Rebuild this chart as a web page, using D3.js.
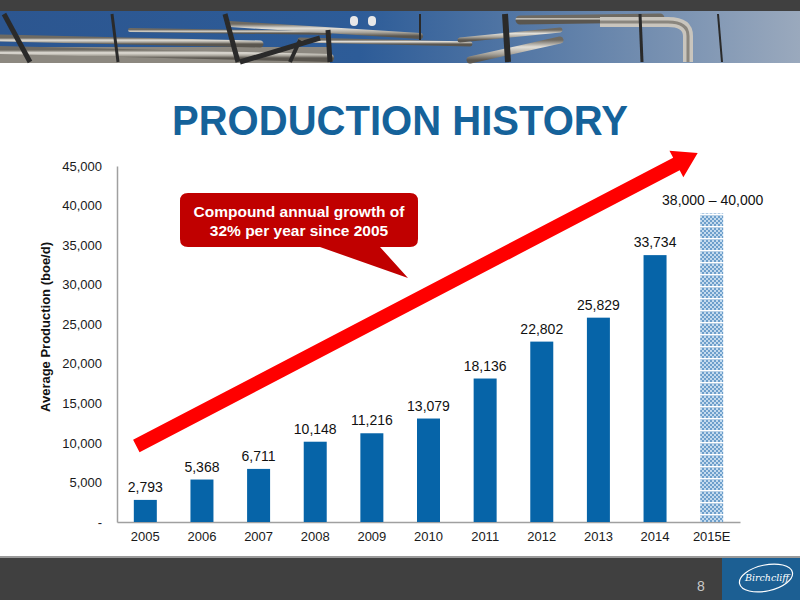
<!DOCTYPE html>
<html>
<head>
<meta charset="utf-8">
<script src="https://cdn.jsdelivr.net/npm/d3@7"></script>
<style>
  html, body { margin: 0; padding: 0; background: #fff; }
  svg { display: block; }
</style>
</head>
<body>
<div id="slide"></div>
<script>
// données du graphique
const years = ["2005", "2006", "2007", "2008", "2009", "2010", "2011", "2012", "2013", "2014", "2015E"];
const production = [2793, 5368, 6711, 10148, 11216, 13079, 18136, 22802, 25829, 33734, 39000];
const valueLabels = ["2,793", "5,368", "6,711", "10,148", "11,216", "13,079", "18,136", "22,802", "25,829", "33,734", "38,000 – 40,000"];
const estimated = [false, false, false, false, false, false, false, false, false, false, true];
const yTicks = [0, 5000, 10000, 15000, 20000, 25000, 30000, 35000, 40000, 45000];

const width = 800, height = 600;
const font = "'Liberation Sans', Arial, Helvetica, sans-serif";

const svg = d3.select("#slide").append("svg")
  .attr("width", width)
  .attr("height", height);

const defs = svg.append("defs");

// motif de la barre estimée
const pat = defs.append("pattern")
  .attr("id", "estPattern")
  .attr("patternUnits", "userSpaceOnUse")
  .attr("width", 4).attr("height", 12);
pat.append("rect").attr("width", 4).attr("height", 12).attr("fill", "#6d9fcb");
[[0, 0], [2, 2], [0, 4], [2, 6], [0, 8]].forEach(([x, y]) => {
  pat.append("rect").attr("x", x).attr("y", y).attr("width", 2).attr("height", 2).attr("fill", "#c3daee");
});
pat.append("rect").attr("x", 0).attr("y", 10).attr("width", 4).attr("height", 1.5).attr("fill", "#ffffff");

// dégradés pour l'en-tête
const sky = defs.append("linearGradient").attr("id", "sky")
  .attr("x1", 0).attr("y1", 0).attr("x2", 1).attr("y2", 0);
sky.append("stop").attr("offset", "0%").attr("stop-color", "#2c5690");
sky.append("stop").attr("offset", "45%").attr("stop-color", "#2d5c98");
sky.append("stop").attr("offset", "70%").attr("stop-color", "#5d7ea8");
sky.append("stop").attr("offset", "100%").attr("stop-color", "#9aa9bd");

const metal = defs.append("linearGradient").attr("id", "metal")
  .attr("x1", 0).attr("y1", 0).attr("x2", 0).attr("y2", 1);
metal.append("stop").attr("offset", "0%").attr("stop-color", "#6e6a62");
metal.append("stop").attr("offset", "35%").attr("stop-color", "#e2dfd8");
metal.append("stop").attr("offset", "70%").attr("stop-color", "#a8a49b");
metal.append("stop").attr("offset", "100%").attr("stop-color", "#5a564f");

// bandeau supérieur
svg.append("rect").attr("x", 0).attr("y", 0).attr("width", width).attr("height", 12).attr("fill", "#404040");
const header = svg.append("g");
header.append("rect").attr("x", 0).attr("y", 11).attr("width", width).attr("height", 52).attr("fill", "url(#sky)");
header.append("rect").attr("x", 0).attr("y", 47).attr("width", 330).attr("height", 16).attr("fill", "#8c8880");
const pipes = [
  [0, 38, 260, 44, 7], [0, 50, 330, 58, 8], [130, 30, 330, 33, 4],
  [230, 24, 420, 36, 6], [300, 40, 470, 44, 5], [460, 40, 560, 30, 5],
  [520, 20, 660, 18, 9], [470, 60, 560, 40, 7]
];
pipes.forEach(([x1, y1, x2, y2, w]) => {
  header.append("line").attr("x1", x1).attr("y1", y1).attr("x2", x2).attr("y2", y2)
    .attr("stroke", "url(#metal)").attr("stroke-width", w).attr("stroke-linecap", "round");
});
header.append("path")
  .attr("d", "M600,22 L668,22 Q688,22 688,36 L688,62")
  .attr("fill", "none").attr("stroke", "#c9c5bd").attr("stroke-width", 10);
header.append("path")
  .attr("d", "M600,22 L668,22 Q688,22 688,36 L688,62")
  .attr("fill", "none").attr("stroke", "#8a867e").attr("stroke-width", 3);
const beams = [
  [4, 14, 30, 62, 5], [112, 14, 118, 62, 3], [225, 14, 238, 62, 5], [300, 40, 290, 62, 4],
  [328, 30, 330, 62, 5], [420, 14, 420, 40, 2], [505, 14, 508, 62, 6], [640, 14, 642, 62, 3],
  [718, 14, 722, 62, 2], [240, 62, 320, 38, 5]
];
beams.forEach(([x1, y1, x2, y2, w]) => {
  header.append("line").attr("x1", x1).attr("y1", y1).attr("x2", x2).attr("y2", y2)
    .attr("stroke", "#2a2a2a").attr("stroke-width", w);
});
header.append("rect").attr("x", 350).attr("y", 16).attr("width", 8).attr("height", 10).attr("rx", 4).attr("fill", "#e8e8e8");
header.append("rect").attr("x", 368).attr("y", 16).attr("width", 8).attr("height", 10).attr("rx", 4).attr("fill", "#e8e8e8");

// titre
svg.append("text")
  .attr("x", 400).attr("y", 135)
  .attr("text-anchor", "middle")
  .attr("font-family", "'Liberation Sans Narrow', 'Arial Narrow', 'Liberation Sans', sans-serif")
  .attr("font-weight", "bold")
  .attr("font-size", 42)
  .attr("textLength", 456)
  .attr("lengthAdjust", "spacingAndGlyphs")
  .attr("fill", "#15629a")
  .text("PRODUCTION HISTORY");

// échelles
const x = d3.scaleBand()
  .domain(years)
  .range([117, 740])
  .paddingInner(0.594)
  .paddingOuter(0.297);

const y = d3.scaleLinear()
  .domain([0, 45000])
  .range([522, 166]);

// axes
const yAxis = svg.append("g")
  .attr("transform", "translate(117,0)")
  .call(d3.axisLeft(y).tickValues(yTicks).tickSize(0).tickPadding(15)
    .tickFormat(d => d === 0 ? "-" : d3.format(",")(d)));
yAxis.select(".domain").attr("stroke", "#a0a0a0").attr("stroke-width", 1.5);
yAxis.selectAll("text").attr("font-family", font).attr("font-size", 13).attr("fill", "#1a1a1a");

const xAxis = svg.append("g")
  .attr("transform", "translate(0,522)")
  .call(d3.axisBottom(x).tickSize(0).tickPadding(10));
xAxis.select(".domain").attr("stroke", "#a0a0a0").attr("stroke-width", 1.5);
xAxis.selectAll("text").attr("font-family", font).attr("font-size", 13).attr("fill", "#1a1a1a");

// titre de l'axe Y
svg.append("text")
  .attr("transform", "translate(50,327) rotate(-90)")
  .attr("text-anchor", "middle")
  .attr("font-family", font)
  .attr("font-weight", "bold")
  .attr("font-size", 13)
  .attr("fill", "#111")
  .text("Average Production (boe/d)");

// barres
const bars = years.map((yr, i) => ({ year: yr, value: production[i], label: valueLabels[i], est: estimated[i] }));

svg.selectAll("rect.bar")
  .data(bars)
  .enter()
  .append("rect")
  .attr("class", "bar")
  .attr("x", d => x(d.year))
  .attr("y", d => y(d.value))
  .attr("width", x.bandwidth())
  .attr("height", d => y(0) - y(d.value))
  .attr("fill", d => d.est ? "url(#estPattern)" : "#0664a8");

svg.selectAll("text.val")
  .data(bars)
  .enter()
  .append("text")
  .attr("class", "val")
  .attr("x", d => x(d.year) + x.bandwidth() / 2 + (d.est ? 1 : 0))
  .attr("y", d => y(d.value) - 8)
  .attr("text-anchor", "middle")
  .attr("font-family", font)
  .attr("font-size", 14)
  .attr("fill", "#111")
  .text(d => d.label);

// flèche rouge de croissance
const ax0 = x("2005") + x.bandwidth() / 2 - 9, ay0 = y(9600);
const ax1 = x("2015E") + x.bandwidth() / 2 - 14, ay1 = y(46650);
const ang = Math.atan2(ay1 - ay0, ax1 - ax0);
const len = Math.hypot(ax1 - ax0, ay1 - ay0);
const shaftW = 14, headW = 30, headL = 24;
const arrowPts = [
  [0, -shaftW / 2], [len - headL, -shaftW / 2], [len - headL, -headW / 2], [len, 0],
  [len - headL, headW / 2], [len - headL, shaftW / 2], [0, shaftW / 2]
];
svg.append("polygon")
  .attr("points", arrowPts.map(p => p.join(",")).join(" "))
  .attr("transform", `translate(${ax0},${ay0}) rotate(${ang * 180 / Math.PI})`)
  .attr("fill", "#ff0000");

// bulle de commentaire
const callout = svg.append("g");
callout.append("path")
  .attr("d", "M188,193 H410 Q418,193 418,201 V239 Q418,247 410,247 H380 L408,278 L320,247 H188 Q180,247 180,239 V201 Q180,193 188,193 Z")
  .attr("fill", "#c00000");
callout.append("text")
  .attr("x", 299).attr("y", 217)
  .attr("text-anchor", "middle")
  .attr("font-family", font).attr("font-weight", "bold").attr("font-size", 15.5)
  .attr("fill", "#fff")
  .text("Compound annual growth of");
callout.append("text")
  .attr("x", 299).attr("y", 236)
  .attr("text-anchor", "middle")
  .attr("font-family", font).attr("font-weight", "bold").attr("font-size", 15.5)
  .attr("fill", "#fff")
  .text("32% per year since 2005");

// pied de page
svg.append("rect").attr("x", 0).attr("y", 556).attr("width", width).attr("height", 2).attr("fill", "#9a9a9a");
svg.append("rect").attr("x", 0).attr("y", 558).attr("width", width).attr("height", 42).attr("fill", "#404040");
svg.append("text")
  .attr("x", 701).attr("y", 591)
  .attr("text-anchor", "middle")
  .attr("font-family", font).attr("font-size", 14)
  .attr("fill", "#c8c8c8")
  .text("8");
svg.append("rect").attr("x", 722).attr("y", 558).attr("width", 78).attr("height", 42).attr("fill", "#1c5f93");
svg.append("ellipse")
  .attr("cx", 766).attr("cy", 578).attr("rx", 27).attr("ry", 13)
  .attr("fill", "none").attr("stroke", "#ffffff").attr("stroke-width", 1.2)
  .attr("transform", "rotate(-12,766,578)");
svg.append("text")
  .attr("x", 767).attr("y", 581)
  .attr("text-anchor", "middle")
  .attr("font-family", "'DejaVu Serif', serif").attr("font-style", "italic").attr("font-size", 9.5)
  .attr("fill", "#ffffff")
  .text("Birchcliff");
</script>
</body>
</html>
